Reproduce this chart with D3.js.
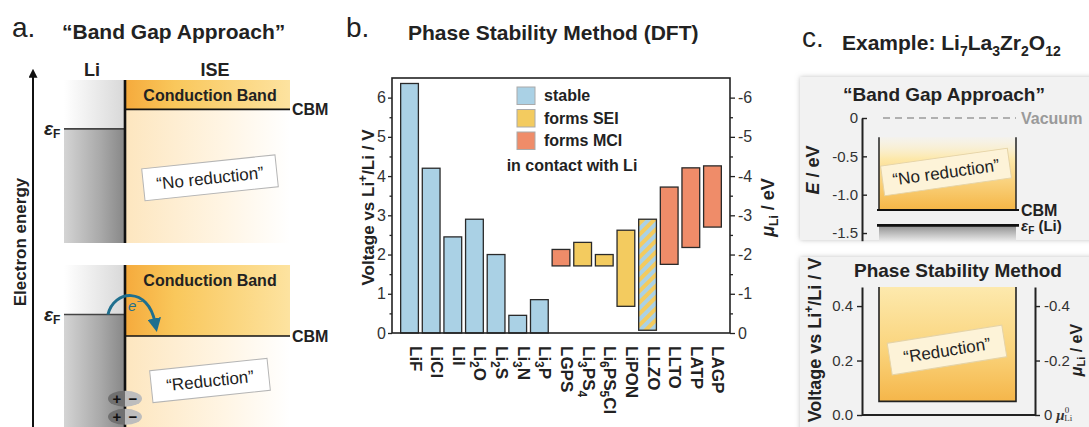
<!DOCTYPE html>
<html>
<head>
<meta charset="utf-8">
<script src="https://cdn.jsdelivr.net/npm/d3@7"></script>
<style>
  body { margin: 0; background: #fff; }
  svg { display: block; font-family: "Liberation Sans", Arial, Helvetica, sans-serif; }
</style>
</head>
<body>
<script>
// ---------- data ----------
// panel a: schematic energies (0 = bottom of the drawing, 1 = top of the conduction band)
const aCases = ["“No reduction”", "“Reduction”"];
const aCBM = [0.82, 0.57];
const aEF = [0.7, 0.7];
const aBoxLevel = [0.4, 0.3];
const aCharges = [0.19, 0.08];

// panel b: stability windows vs Li+/Li (V)
const materials = ["LiF", "LiCl", "LiI", "Li_{2}O", "Li_{2}S", "Li_{3}N", "Li_{3}P", "LGPS",
  "Li_{3}PS_{4}", "Li_{6}PS_{5}Cl", "LiPON", "LLZO", "LLTO", "LATP", "LAGP"];
const lowV = [0, 0, 0, 0, 0, 0, 0, 1.71, 1.71, 1.71, 0.68, 0.07, 1.75, 2.18, 2.7];
const highV = [6.36, 4.2, 2.45, 2.9, 2.0, 0.45, 0.85, 2.13, 2.31, 2.0, 2.62, 2.9, 3.72, 4.21, 4.26];
const behaviour = ["stable", "stable", "stable", "stable", "stable", "stable", "stable", "MCI",
  "SEI", "SEI", "SEI", "mixed", "MCI", "MCI", "MCI"];
const legendKeys = ["stable", "SEI", "MCI"];
const legendLabels = ["stable", "forms SEI", "forms MCI"];
const voltTicks = [0, 1, 2, 3, 4, 5, 6];
const voltMinor = [0.5, 1.5, 2.5, 3.5, 4.5, 5.5];

// panel c: Li7La3Zr2O12 example
const cEnergyTicks = [0, -0.5, -1.0, -1.5];
const cVacuum = 0;
const cBandTop = -0.25;
const cCBM = -1.2;
const cEF = -1.4;
const cVoltTicks = [0, 0.2, 0.4];
const cRightTicks = [0, 0.2, 0.4];
const cRedTop = 0.47, cRedBottom = 0.05;

const kindColor = { stable: "#aad1e5", SEI: "#f3cb5f", MCI: "#ef8c69", mixed: "url(#hatch)" };

// ---------- helpers ----------
const W = 1089, H = 427;
const svg = d3.select("body").append("svg").attr("width", W).attr("height", H);
svg.append("rect").attr("width", W).attr("height", H).attr("fill", "#fff");
const defs = svg.append("defs");

function linGrad(id, x2, y2, stops) {
  const g = defs.append("linearGradient").attr("id", id)
    .attr("x1", 0).attr("y1", 0).attr("x2", x2).attr("y2", y2);
  stops.forEach(([o, c, a]) => g.append("stop").attr("offset", o)
    .attr("stop-color", c).attr("stop-opacity", a == null ? 1 : a));
}

// tiny markup: _{..} subscript, ^{..} superscript
function rich(text, str, fs) {
  const re = /([_^])\{([^}]*)\}|([^_^]+)/g;
  let m, cur = 0;
  while ((m = re.exec(str)) !== null) {
    if (m[3] !== undefined) {
      text.append("tspan").attr("dy", -cur).text(m[3]);
      cur = 0;
    } else {
      const off = m[1] === "_" ? fs * 0.28 : -fs * 0.42;
      text.append("tspan").attr("font-size", Math.round(fs * 0.68)).attr("dy", off - cur).text(m[2]);
      cur = off;
    }
  }
}

function styleAxis(g, fs) {
  g.attr("font-size", fs).attr("font-family", null);
  g.selectAll("line").attr("stroke", "#222").attr("stroke-width", 1.3);
  g.selectAll("text").attr("fill", "#333");
  g.select(".domain").remove();
}

function tiltedBox(x, y, w, h, angle, label, fill, stroke) {
  const g = svg.append("g").attr("transform", `translate(${x},${y}) rotate(${angle})`);
  g.append("rect").attr("x", -w / 2).attr("y", -h / 2).attr("width", w).attr("height", h)
    .attr("fill", fill).attr("stroke", stroke).attr("stroke-width", 1);
  g.append("text").attr("text-anchor", "middle").attr("dy", "0.36em")
    .attr("font-size", 17).attr("fill", "#222").text(label);
}

// gradients / patterns
linGrad("liTop", 1, 0, [[0, "#ffffff"], [1, "#d8d8d8"]]);
linGrad("liBody", 1, 0, [[0, "#d4d4d4"], [0.6, "#a9a9a9"], [1, "#878787"]]);
linGrad("cb", 1, 0, [[0, "#f5aa3c"], [0.3, "#f9c75b"], [1, "#fde3a0"]]);
linGrad("cream", 1, 0, [[0, "#fde6bf"], [0.6, "#fff5e4"], [1, "#ffffff"]]);
linGrad("cTop", 0, 1, [[0, "#fdf3d6", 0.2], [0.3, "#fde8a9"], [1, "#f5b646"]]);
linGrad("cGray", 0, 1, [[0, "#8f8f8f"], [1, "#e8e8e8"]]);
linGrad("cBot", 0, 1, [[0, "#fde9ad"], [0.55, "#fad47c"], [1, "#f5b64a"]]);

const hatch = defs.append("pattern").attr("id", "hatch").attr("patternUnits", "userSpaceOnUse")
  .attr("width", 8).attr("height", 8).attr("patternTransform", "rotate(45)");
hatch.append("rect").attr("width", 8).attr("height", 8).attr("fill", kindColor.stable);
hatch.append("rect").attr("width", 4).attr("height", 8).attr("fill", kindColor.SEI);

defs.append("marker").attr("id", "tealHead").attr("viewBox", "0 0 10 10")
  .attr("refX", 3).attr("refY", 5).attr("markerWidth", 4.6).attr("markerHeight", 4.6)
  .attr("orient", "auto")
  .append("path").attr("d", "M0,0L10,5L0,10z").attr("fill", "#1f6f8e");
defs.append("marker").attr("id", "blackHead").attr("viewBox", "0 0 10 10")
  .attr("refX", 2).attr("refY", 5).attr("markerWidth", 4.5).attr("markerHeight", 4.5)
  .attr("orient", "auto")
  .append("path").attr("d", "M0,0L10,5L0,10z").attr("fill", "#111");

const shadow = defs.append("filter").attr("id", "soft")
  .attr("x", "-5%").attr("y", "-5%").attr("width", "110%").attr("height", "110%");
shadow.append("feDropShadow").attr("dx", 0).attr("dy", 0).attr("stdDeviation", 2.5)
  .attr("flood-color", "#999").attr("flood-opacity", 0.6);

// ========== panel a ==========
svg.append("text").attr("x", 12).attr("y", 37).attr("font-size", 28).attr("fill", "#222").text("a.");
svg.append("text").attr("x", 62).attr("y", 39).attr("font-size", 21).attr("font-weight", "bold")
  .attr("fill", "#222").text("“Band Gap Approach”");

const aLeft = 64, aMid = 125, aRight = 290;
const aRanges = [[243, 80], [430, 265]];

svg.append("line").attr("x1", 33).attr("x2", 33).attr("y1", 427).attr("y2", 76)
  .attr("stroke", "#111").attr("stroke-width", 2).attr("marker-end", "url(#blackHead)");
svg.append("text").attr("transform", "translate(26,242) rotate(-90)").attr("text-anchor", "middle")
  .attr("font-size", 17).attr("font-weight", "bold").attr("fill", "#222").text("Electron energy");
svg.append("text").attr("x", 92).attr("y", 76).attr("text-anchor", "middle").attr("font-size", 18)
  .attr("font-weight", "bold").attr("fill", "#222").text("Li");
svg.append("text").attr("x", 215).attr("y", 76).attr("text-anchor", "middle").attr("font-size", 18)
  .attr("font-weight", "bold").attr("fill", "#222").text("ISE");

aCases.forEach((label, i) => {
  const y = d3.scaleLinear().domain([0, 1]).range(aRanges[i]);
  const g = svg.append("g");
  // Li metal
  g.append("rect").attr("x", aLeft).attr("y", y(1)).attr("width", aMid - aLeft)
    .attr("height", y(aEF[i]) - y(1)).attr("fill", "url(#liTop)");
  g.append("rect").attr("x", aLeft).attr("y", y(aEF[i])).attr("width", aMid - aLeft)
    .attr("height", y(0) - y(aEF[i])).attr("fill", "url(#liBody)");
  // electrolyte
  g.append("rect").attr("x", aMid).attr("y", y(1)).attr("width", aRight - aMid)
    .attr("height", y(aCBM[i]) - y(1)).attr("fill", "url(#cb)");
  g.append("rect").attr("x", aMid).attr("y", y(aCBM[i])).attr("width", aRight - aMid)
    .attr("height", y(0) - y(aCBM[i])).attr("fill", "url(#cream)");
  // levels
  g.append("line").attr("x1", aLeft).attr("x2", aMid).attr("y1", y(aEF[i])).attr("y2", y(aEF[i]))
    .attr("stroke", "#444").attr("stroke-width", 1.6);
  g.append("line").attr("x1", aMid).attr("x2", aRight).attr("y1", y(aCBM[i])).attr("y2", y(aCBM[i]))
    .attr("stroke", "#111").attr("stroke-width", 1.6);
  // interface
  g.append("line").attr("x1", aMid).attr("x2", aMid).attr("y1", y(1)).attr("y2", y(0))
    .attr("stroke", "#111").attr("stroke-width", 2.6);
  g.append("text").attr("x", aMid + 85).attr("y", y(1) + 21).attr("text-anchor", "middle")
    .attr("font-size", 16).attr("font-weight", "bold").attr("fill", "#222").text("Conduction Band");
  g.append("text").attr("x", aRight + 2).attr("y", y(aCBM[i])).attr("dy", "0.38em")
    .attr("font-size", 16).attr("font-weight", "bold").attr("fill", "#222").text("CBM");
  const ef = g.append("text").attr("x", 44).attr("y", y(aEF[i]) + 6).attr("font-weight", "bold")
    .attr("fill", "#222");
  ef.append("tspan").attr("font-size", 19).attr("font-style", "italic").text("ε");
  ef.append("tspan").attr("font-size", 12).attr("dy", 3).text("F");

  if (i === 1) {
    // electron transfer arrow
    const yF = y(aEF[i]);
    g.append("path")
      .attr("d", `M108,${yF} C114,${yF - 25} 148,${yF - 28} 155,${yF + 8}`)
      .attr("fill", "none").attr("stroke", "#1f6f8e").attr("stroke-width", 3)
      .attr("marker-end", "url(#tealHead)");
    const e = g.append("text").attr("x", 128).attr("y", yF - 4).attr("fill", "#1f6f8e")
      .attr("font-size", 15).attr("font-style", "italic");
    e.append("tspan").text("e");
    e.append("tspan").attr("font-size", 10).attr("dy", -6).text("−");
    // double layer charges
    aCharges.forEach(v => {
      const cy = y(v);
      g.append("path").attr("d", `M${aMid},${cy - 8} A17,8 0 0 0 ${aMid},${cy + 8} Z`).attr("fill", "#707070");
      g.append("path").attr("d", `M${aMid},${cy - 8} A17,8 0 0 1 ${aMid},${cy + 8} Z`).attr("fill", "#bdbdbd");
      g.append("text").attr("x", aMid - 8).attr("y", cy + 5).attr("text-anchor", "middle")
        .attr("font-size", 15).attr("font-weight", "bold").attr("fill", "#111").text("+");
      g.append("text").attr("x", aMid + 8).attr("y", cy + 5).attr("text-anchor", "middle")
        .attr("font-size", 15).attr("font-weight", "bold").attr("fill", "#111").text("−");
    });
  }
  tiltedBox(210, y(aBoxLevel[i]), i === 0 ? 134 : 118, 32, -6, label, "#fff", "#b5b5b5");
});

// ========== panel b ==========
svg.append("text").attr("x", 346).attr("y", 37).attr("font-size", 28).attr("fill", "#222").text("b.");
svg.append("text").attr("x", 408).attr("y", 40).attr("font-size", 21).attr("font-weight", "bold")
  .attr("fill", "#222").text("Phase Stability Method (DFT)");

const bLeft = 392, bRight = 730, bTop = 78, bBottom = 333;
const bx = d3.scaleBand().domain(materials).range([bLeft, bRight]).paddingInner(0.18).paddingOuter(0.4);
const by = d3.scaleLinear().domain([0, 6.5]).range([bBottom, bTop]);

svg.append("g").selectAll("rect").data(materials).join("rect")
  .attr("x", d => bx(d)).attr("width", bx.bandwidth())
  .attr("y", (d, i) => by(highV[i])).attr("height", (d, i) => by(lowV[i]) - by(highV[i]))
  .attr("fill", (d, i) => kindColor[behaviour[i]])
  .attr("stroke", "#2a2a2a").attr("stroke-width", 1.3);

svg.append("rect").attr("x", bLeft).attr("y", bTop).attr("width", bRight - bLeft).attr("height", bBottom - bTop)
  .attr("fill", "none").attr("stroke", "#222").attr("stroke-width", 1.6);

const bl = svg.append("g").attr("transform", `translate(${bLeft},0)`)
  .call(d3.axisLeft(by).tickValues(voltTicks).tickSize(4).tickPadding(2).tickSizeOuter(0)
    .tickFormat(d3.format("d")));
styleAxis(bl, 16);
const blm = svg.append("g").attr("transform", `translate(${bLeft},0)`)
  .call(d3.axisLeft(by).tickValues(voltMinor).tickSize(2.5).tickFormat("").tickSizeOuter(0));
styleAxis(blm, 16);
const br = svg.append("g").attr("transform", `translate(${bRight},0)`)
  .call(d3.axisRight(by).tickValues(voltTicks).tickSize(5).tickPadding(3).tickSizeOuter(0)
    .tickFormat(d => d === 0 ? "0" : "-" + d));
styleAxis(br, 16);
const brm = svg.append("g").attr("transform", `translate(${bRight},0)`)
  .call(d3.axisRight(by).tickValues(voltMinor).tickSize(3).tickFormat("").tickSizeOuter(0));
styleAxis(brm, 16);

// axis titles
const bYl = svg.append("text").attr("transform", `translate(374,${(bTop + bBottom) / 2 + 2}) rotate(-90)`)
  .attr("text-anchor", "middle").attr("font-size", 17).attr("font-weight", "bold").attr("fill", "#222");
rich(bYl, "Voltage vs Li^{+}/Li / V", 17);
const bYr = svg.append("text").attr("transform", `translate(774,${(bTop + bBottom) / 2 + 2}) rotate(-90)`)
  .attr("text-anchor", "middle").attr("font-size", 18).attr("font-weight", "bold").attr("fill", "#222");
bYr.append("tspan").attr("font-style", "italic").text("μ");
bYr.append("tspan").attr("font-size", 12).attr("dy", 4).text("Li");
bYr.append("tspan").attr("dy", -4).text(" / eV");

// material labels
svg.append("g").selectAll("text").data(materials).join("text")
  .attr("transform", d => `translate(${bx(d) + bx.bandwidth() / 2},346) rotate(90)`)
  .attr("dy", "0.35em").attr("font-size", 17).attr("font-weight", "bold").attr("fill", "#222")
  .each(function (d) { rich(d3.select(this), d, 17); });

// legend
const leg = svg.append("g");
legendKeys.forEach((k, i) => {
  const ly = 87 + i * 22.5;
  leg.append("rect").attr("x", 517).attr("y", ly).attr("width", 18).attr("height", 17.5)
    .attr("fill", kindColor[k]).attr("stroke", "#aaa").attr("stroke-width", 1);
  leg.append("text").attr("x", 544).attr("y", ly + 14).attr("font-size", 16).attr("font-weight", "bold")
    .attr("fill", "#222").text(legendLabels[i]);
});
leg.append("text").attr("x", 572).attr("y", 171).attr("text-anchor", "middle").attr("font-size", 16)
  .attr("font-weight", "bold").attr("fill", "#222").text("in contact with Li");

// ========== panel c ==========
svg.append("text").attr("x", 802).attr("y", 47).attr("font-size", 28).attr("fill", "#222").text("c.");
const cTitle = svg.append("text").attr("x", 842).attr("y", 50).attr("font-size", 21)
  .attr("font-weight", "bold").attr("fill", "#222");
rich(cTitle, "Example: Li_{7}La_{3}Zr_{2}O_{12}", 21);

// backgrounds
svg.append("rect").attr("x", 800).attr("y", 77).attr("width", 300).attr("height", 163)
  .attr("fill", "#f2f2f2").attr("filter", "url(#soft)");
svg.append("rect").attr("x", 800).attr("y", 257).attr("width", 300).attr("height", 180)
  .attr("fill", "#f2f2f2").attr("filter", "url(#soft)");

const cL = 879, cR = 1016, cAx = 862, cAxR = 1035;

// --- top: band gap approach
svg.append("text").attr("x", 944).attr("y", 101).attr("text-anchor", "middle").attr("font-size", 19)
  .attr("font-weight", "bold").attr("fill", "#222").text("“Band Gap Approach”");
const cE = d3.scaleLinear().domain([-1.6, 0]).range([240.7, 118]);

svg.append("rect").attr("x", cL).attr("y", cE(cBandTop)).attr("width", cR - cL)
  .attr("height", cE(cCBM) - cE(cBandTop)).attr("fill", "url(#cTop)");
svg.append("rect").attr("x", cL).attr("y", cE(cEF)).attr("width", cR - cL)
  .attr("height", cE(-1.6) - cE(cEF)).attr("fill", "url(#cGray)");
[cL, cR].forEach(x => svg.append("line").attr("x1", x).attr("x2", x)
  .attr("y1", cE(cBandTop)).attr("y2", cE(cCBM)).attr("stroke", "#222").attr("stroke-width", 1.5));
svg.append("line").attr("x1", cL - 2).attr("x2", cR + 3).attr("y1", cE(cCBM)).attr("y2", cE(cCBM))
  .attr("stroke", "#111").attr("stroke-width", 2);
svg.append("line").attr("x1", cL - 2).attr("x2", cR + 3).attr("y1", cE(cEF)).attr("y2", cE(cEF))
  .attr("stroke", "#111").attr("stroke-width", 2.6);
svg.append("line").attr("x1", cL + 4).attr("x2", cR).attr("y1", cE(cVacuum)).attr("y2", cE(cVacuum))
  .attr("stroke", "#9a9a9a").attr("stroke-width", 1.6).attr("stroke-dasharray", "7,5");

svg.append("text").attr("x", 1021).attr("y", cE(cVacuum)).attr("dy", "0.36em").attr("font-size", 16)
  .attr("font-weight", "bold").attr("fill", "#9a9a9a").text("Vacuum");
svg.append("text").attr("x", 1021).attr("y", cE(cCBM)).attr("dy", "0.36em").attr("font-size", 16)
  .attr("font-weight", "bold").attr("fill", "#222").text("CBM");
const cef = svg.append("text").attr("x", 1021).attr("y", cE(cEF)).attr("dy", "0.36em")
  .attr("font-size", 15).attr("font-weight", "bold").attr("fill", "#222");
cef.append("tspan").attr("font-style", "italic").text("ε");
cef.append("tspan").attr("font-size", 10).attr("dy", 3).text("F");
cef.append("tspan").attr("dy", -3).text(" (Li)");

const ceAx = svg.append("g").attr("transform", `translate(${cAx},0)`)
  .call(d3.axisLeft(cE).tickValues(cEnergyTicks).tickSizeInner(-5).tickSizeOuter(0).tickPadding(4)
    .tickFormat(d => d === 0 ? "0" : d.toFixed(1)));
ceAx.attr("font-size", 15).attr("font-family", null);
ceAx.selectAll("line").attr("stroke", "#222").attr("stroke-width", 1.4);
ceAx.selectAll("text").attr("fill", "#333");
ceAx.select(".domain").attr("stroke", "#222").attr("stroke-width", 2);

const cEl = svg.append("text").attr("transform", "translate(819,170) rotate(-90)")
  .attr("text-anchor", "middle").attr("font-size", 18).attr("font-weight", "bold").attr("fill", "#222");
cEl.append("tspan").attr("font-style", "italic").text("E");
cEl.append("tspan").text(" / eV");

tiltedBox(946, 172, 128, 30, -8, "“No reduction”", "#fdf3d8", "#e5d3a6");

// --- bottom: phase stability method
svg.append("text").attr("x", 958).attr("y", 277).attr("text-anchor", "middle").attr("font-size", 19)
  .attr("font-weight", "bold").attr("fill", "#222").text("Phase Stability Method");
const cV = d3.scaleLinear().domain([0, cRedTop]).range([415, 287]);

svg.append("rect").attr("x", cL).attr("y", cV(cRedTop)).attr("width", cR - cL)
  .attr("height", cV(cRedBottom) - cV(cRedTop)).attr("fill", "url(#cBot)");
svg.append("path")
  .attr("d", `M${cL},${cV(cRedTop)}V${cV(cRedBottom)}H${cR}V${cV(cRedTop)}`)
  .attr("fill", "none").attr("stroke", "#222").attr("stroke-width", 1.6);

const cvl = svg.append("g").attr("transform", `translate(${cAx},0)`)
  .call(d3.axisLeft(cV).tickValues(cVoltTicks).tickSize(5).tickSizeOuter(0).tickPadding(4)
    .tickFormat(d3.format(".1f")));
const cvr = svg.append("g").attr("transform", `translate(${cAxR},0)`)
  .call(d3.axisRight(cV).tickValues(cRightTicks).tickSize(5).tickSizeOuter(0).tickPadding(4)
    .tickFormat(d => d === 0 ? "0" : "-" + d.toFixed(1)));
[cvl, cvr].forEach(g => {
  g.attr("font-size", 15).attr("font-family", null);
  g.selectAll("line").attr("stroke", "#222").attr("stroke-width", 1.4);
  g.selectAll("text").attr("fill", "#333");
  g.select(".domain").attr("stroke", "#222").attr("stroke-width", 2);
});
svg.append("line").attr("x1", cAx).attr("x2", cAxR).attr("y1", cV(0)).attr("y2", cV(0))
  .attr("stroke", "#222").attr("stroke-width", 2);
cvr.selectAll(".tick text").filter(d => d === 0).each(function () {
  const t = d3.select(this);
  t.append("tspan").attr("font-family", "Liberation Serif, Times New Roman, serif").attr("font-style", "italic")
    .attr("font-weight", "bold").attr("dx", 4).text("μ");
  t.append("tspan").attr("font-family", "Liberation Serif, Times New Roman, serif").attr("font-size", 9)
    .attr("dy", -7).text("0");
  t.append("tspan").attr("font-family", "Liberation Serif, Times New Roman, serif").attr("font-size", 9)
    .attr("dx", -5).attr("dy", 8).text("Li");
});

const cVl = svg.append("text").attr("transform", "translate(821,340) rotate(-90)")
  .attr("text-anchor", "middle").attr("font-size", 18).attr("font-weight", "bold").attr("fill", "#222");
rich(cVl, "Voltage vs Li^{+}/Li / V", 18);
const cVr = svg.append("text").attr("transform", "translate(1082,350) rotate(-90)")
  .attr("text-anchor", "middle").attr("font-size", 16).attr("font-weight", "bold").attr("fill", "#222");
cVr.append("tspan").attr("font-style", "italic").text("μ");
cVr.append("tspan").attr("font-size", 11).attr("dy", 3).text("Li");
cVr.append("tspan").attr("dy", -3).text(" / eV");

tiltedBox(947, 350, 116, 32, -9, "“Reduction”", "#fdf3d8", "#e5d3a6");
</script>
</body>
</html>
